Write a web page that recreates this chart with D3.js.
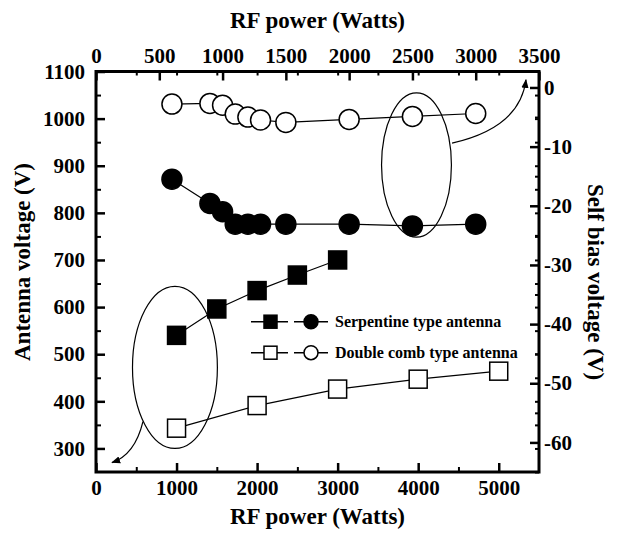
<!DOCTYPE html>
<html>
<head>
<meta charset="utf-8">
<script src="https://cdn.jsdelivr.net/npm/d3@7"></script>
<style>
  body { margin: 0; background: #fff; }
  svg { display: block; }
  text { font-family: "Liberation Serif", "Times New Roman", serif; font-weight: bold; fill: #000; }
  .domain { display: none; }
</style>
</head>
<body>
<svg id="chart" width="617" height="534"></svg>
<script>
// antenna voltage (left axis) vs RF power (bottom axis)
var powerSerp = [1000, 1500, 2000, 2500, 3000];
var voltSerp = [540, 596, 635, 668, 700];
var powerComb = [1000, 2000, 3000, 4000, 5000];
var voltComb = [343, 391, 426, 447, 464];

// self bias voltage (right axis) vs RF power (top axis)
var powerBias = [600, 900, 1000, 1100, 1200, 1300, 1500, 2000, 2500, 3000];
var biasSerp = [-15.5, -19.6, -21.0, -23.1, -23.1, -23.1, -23.1, -23.1, -23.4, -23.1];
var biasComb = [-2.8, -2.7, -3.0, -4.5, -5.0, -5.5, -5.9, -5.4, -4.9, -4.4];

var bottomTicks = [0, 1000, 2000, 3000, 4000, 5000];
var topTicks = [0, 500, 1000, 1500, 2000, 2500, 3000, 3500];
var leftTicks = [300, 400, 500, 600, 700, 800, 900, 1000, 1100];
var rightTicks = [0, -10, -20, -30, -40, -50, -60];

var legendLabels = ["Serpentine type antenna", "Double comb type antenna"];

var L = 96, R = 539, T = 71.5, B = 472;

var x = d3.scaleLinear().domain([0, 5500]).range([L, R]);
var xTop = d3.scaleLinear().domain([0, 3500]).range([L, R]);
var yL = d3.scaleLinear().domain([250, 1100]).range([B, T]);
var yR = d3.scaleLinear().domain([-65, 2.7]).range([B, T]);

var fmt = function(d) { return String(d); };  // plain hyphen minus, no commas
var svg = d3.select("#chart");

function styleTicks(g, w) {
  g.selectAll(".tick line").attr("stroke", "#000").attr("stroke-width", w);
  g.selectAll(".tick text").style("font-size", "21px");
}

// minor / mirrored ticks
svg.append("g").attr("transform", "translate(0," + B + ")")
  .call(d3.axisBottom(x).tickValues(d3.range(500, 5500, 1000)).tickSize(-5).tickFormat(""))
  .call(styleTicks, 2);
svg.append("g").attr("transform", "translate(0," + T + ")")
  .call(d3.axisTop(x).tickValues(d3.range(500, 5500, 500)).tickSize(-4).tickFormat(""))
  .call(styleTicks, 2);
svg.append("g").attr("transform", "translate(" + L + ",0)")
  .call(d3.axisLeft(yL).tickValues(d3.range(350, 1100, 100)).tickSize(-5).tickFormat(""))
  .call(styleTicks, 2);
svg.append("g").attr("transform", "translate(" + R + ",0)")
  .call(d3.axisRight(yL).tickValues(d3.range(300, 1100, 50)).tickSize(-4).tickFormat(""))
  .call(styleTicks, 2);
svg.append("g").attr("transform", "translate(" + R + ",0)")
  .call(d3.axisRight(yR).tickValues(d3.range(-65, 0, 10)).tickSize(-4).tickFormat(""))
  .call(styleTicks, 2);

// major axes
svg.append("g").attr("transform", "translate(0," + B + ")")
  .call(d3.axisBottom(x).tickValues(bottomTicks).tickSize(-9).tickPadding(8).tickFormat(fmt))
  .call(styleTicks, 2.5);
svg.append("g").attr("transform", "translate(0," + T + ")")
  .call(d3.axisTop(xTop).tickValues(topTicks).tickSize(-9).tickPadding(9).tickFormat(fmt))
  .call(styleTicks, 2.5);
svg.append("g").attr("transform", "translate(" + L + ",0)")
  .call(d3.axisLeft(yL).tickValues(leftTicks).tickSize(-9).tickPadding(11).tickFormat(fmt))
  .call(styleTicks, 2.5);
svg.append("g").attr("transform", "translate(" + R + ",0)")
  .call(d3.axisRight(yR).tickValues(rightTicks).tickSize(-9).tickPadding(5).tickFormat(fmt))
  .call(styleTicks, 2.5);

// frame
svg.append("rect")
  .attr("x", L).attr("y", T)
  .attr("width", R - L).attr("height", B - T)
  .attr("fill", "none").attr("stroke", "#000").attr("stroke-width", 3);

// axis titles
svg.append("text").attr("x", (L + R) / 2).attr("y", 28)
  .attr("text-anchor", "middle").style("font-size", "23px").text("RF power (Watts)");
svg.append("text").attr("x", (L + R) / 2).attr("y", 524)
  .attr("text-anchor", "middle").style("font-size", "23px").text("RF power (Watts)");
svg.append("text").attr("transform", "translate(30,262) rotate(-90)")
  .attr("text-anchor", "middle").style("font-size", "23px").text("Antenna voltage (V)");
svg.append("text").attr("transform", "translate(588,282) rotate(90)")
  .attr("text-anchor", "middle").style("font-size", "23px").text("Self bias voltage (V)");

// annotation ellipses and arrows
svg.append("defs").append("marker")
  .attr("id", "head").attr("viewBox", "0 0 10 10")
  .attr("refX", 9).attr("refY", 5)
  .attr("markerWidth", 9).attr("markerHeight", 9)
  .attr("markerUnits", "userSpaceOnUse")
  .attr("orient", "auto")
  .append("path").attr("d", "M0,1 L10,5 L0,9 Z").attr("fill", "#000");

svg.append("ellipse")
  .attr("cx", x(980)).attr("cy", yL(472))
  .attr("rx", x(527) - x(0)).attr("ry", yL(300) - yL(472))
  .attr("fill", "none").attr("stroke", "#000").attr("stroke-width", 1.2);
svg.append("ellipse")
  .attr("cx", xTop(2532)).attr("cy", yR(-13.1))
  .attr("rx", xTop(276) - xTop(0)).attr("ry", yR(-12.2) - yR(0))
  .attr("fill", "none").attr("stroke", "#000").attr("stroke-width", 1.2);

svg.append("path")
  .attr("d", "M" + x(583) + "," + yL(357) + " Q" + x(484) + "," + yL(287) + " " + x(199) + "," + yL(270))
  .attr("fill", "none").attr("stroke", "#000").attr("stroke-width", 1.2)
  .attr("marker-end", "url(#head)");
svg.append("path")
  .attr("d", "M" + xTop(2813) + "," + yR(-9.4) + " Q" + xTop(3350) + "," + yR(-6.8) + " " + xTop(3397) + "," + yR(1.3))
  .attr("fill", "none").attr("stroke", "#000").attr("stroke-width", 1.2)
  .attr("marker-end", "url(#head)");

// series lines
function drawLine(xs, ys, sx, sy) {
  var pts = xs.map(function(v, i) { return [sx(v), sy(ys[i])]; });
  svg.append("path").attr("d", d3.line()(pts))
    .attr("fill", "none").attr("stroke", "#000").attr("stroke-width", 1.2);
  return pts;
}

var ptsSerp = drawLine(powerSerp, voltSerp, x, yL);
var ptsComb = drawLine(powerComb, voltComb, x, yL);
var ptsBs = drawLine(powerBias, biasSerp, xTop, yR);
var ptsBc = drawLine(powerBias, biasComb, xTop, yR);

function squares(pts, fill) {
  svg.append("g").selectAll("rect").data(pts).join("rect")
    .attr("x", function(d) { return d[0] - 9; })
    .attr("y", function(d) { return d[1] - 9; })
    .attr("width", 18).attr("height", 18)
    .attr("fill", fill).attr("stroke", "#000").attr("stroke-width", 1.5);
}
function circles(pts, fill) {
  svg.append("g").selectAll("circle").data(pts).join("circle")
    .attr("cx", function(d) { return d[0]; })
    .attr("cy", function(d) { return d[1]; })
    .attr("r", 10)
    .attr("fill", fill).attr("stroke", "#000").attr("stroke-width", 1.5);
}

squares(ptsSerp, "#000");
squares(ptsComb, "#fff");
circles(ptsBs, "#000");
circles(ptsBc, "#fff");

// legend
var legend = svg.append("g");
legendLabels.forEach(function(label, i) {
  var y = 321.7 + i * 31;
  var fill = i === 0 ? "#000" : "#fff";
  legend.append("line").attr("x1", 251).attr("x2", 288).attr("y1", y).attr("y2", y)
    .attr("stroke", "#000").attr("stroke-width", 1.5);
  legend.append("line").attr("x1", 294).attr("x2", 328).attr("y1", y).attr("y2", y)
    .attr("stroke", "#000").attr("stroke-width", 1.5);
  legend.append("rect").attr("x", 264).attr("y", y - 6.5).attr("width", 13).attr("height", 13)
    .attr("fill", fill).attr("stroke", "#000").attr("stroke-width", 1.5);
  legend.append("circle").attr("cx", 311).attr("cy", y).attr("r", 7)
    .attr("fill", fill).attr("stroke", "#000").attr("stroke-width", 1.5);
  legend.append("text").attr("x", 335).attr("y", y + 5.5)
    .style("font-size", "16px").text(label);
});
</script>
</body>
</html>
